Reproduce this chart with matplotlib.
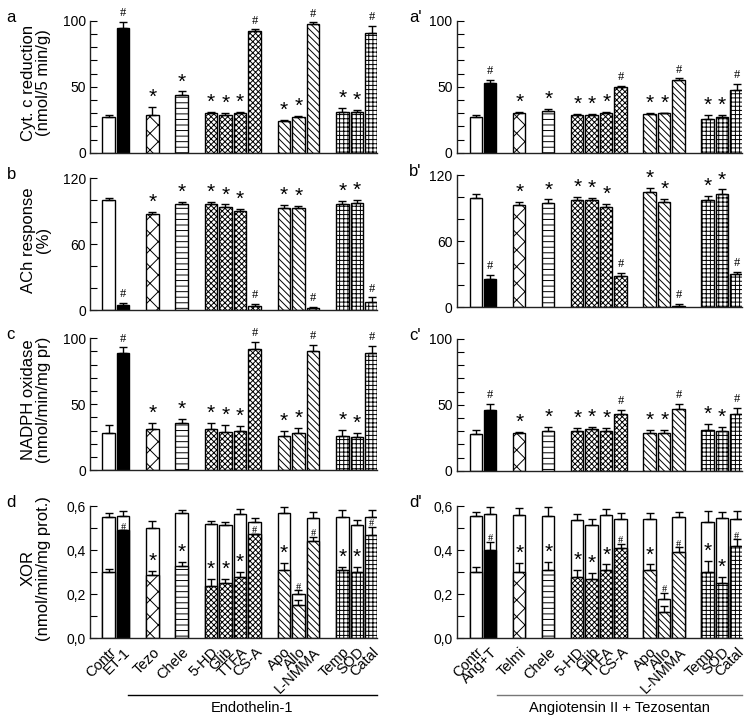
import numpy as np
import matplotlib
matplotlib.use('Agg')
import matplotlib.pyplot as plt
import matplotlib.transforms as mtransforms
from matplotlib.ticker import MultipleLocator, FuncFormatter

plt.rcParams['font.family'] = ['Liberation Sans', 'DejaVu Sans']
plt.rcParams['hatch.linewidth'] = 0.7

# bar slots (gaps between treatment groups)
pos = [0, 1, 3, 5, 7, 8, 9, 10, 12, 13, 14, 16, 17, 18]
labels_et = ['Contr', 'ET-1', 'Tezo', 'Chele', '5-HD', 'Glib', 'TTFA', 'CS-A',
             'Apo', 'Allo', 'L-NMMA', 'Temp', 'SOD', 'Catal']
labels_ang = ['Contr', 'Ang+T', 'Telmi', 'Chele', '5-HD', 'Glib', 'TTFA', 'CS-A',
              'Apo', 'Allo', 'L-NMMA', 'Temp', 'SOD', 'Catal']
hatches = ['', '', 'xx', '---', 'xxxxxx', 'xxxxxx', 'xxxxxx', 'xxxxxx',
           '\\' * 5, '\\' * 5, '\\' * 5, '++++', '++++', '++++']
fills = ['white', 'black'] + ['white'] * 12
marks_abc = ['', '#', '*', '*', '*', '*', '*', '#', '*', '*', '#', '*', '*', '#']
marks_d = ['', '#', '*', '*', '*', '*', '*', '#', '*', '#', '#', '*', '*', '#']

# Endothelin-1
cyt_et = [27, 95, 29, 44, 30, 29, 30, 92, 24, 27, 98, 31, 31, 91]
cyt_et_err = [2, 4, 6, 2.5, 1, 1, 1, 1.5, 1, 1, 0.8, 3, 1.5, 5]
ach_et = [100, 5, 87, 96, 96, 94, 90, 3.5, 93, 93, 1.5, 96, 97, 7]
ach_et_err = [2, 1.5, 2.5, 2.5, 2.5, 2, 2, 2, 2.5, 2, 1.5, 3, 3, 4.5]
nadph_et = [28, 89, 31, 36, 31, 29, 30, 92, 26, 28, 90, 26, 25, 89]
nadph_et_err = [6, 4, 4.5, 3, 5, 5.5, 3.5, 5, 4, 4, 5, 4.5, 3, 5]
xor_tot_et = [0.55, 0.555, 0.50, 0.57, 0.52, 0.515, 0.565, 0.53, 0.57, 0.20, 0.545, 0.55, 0.515, 0.55]
xor_tot_et_err = [0.02, 0.025, 0.033, 0.013, 0.013, 0.013, 0.022, 0.018, 0.025, 0.018, 0.03, 0.032, 0.022, 0.033]
xor_et = [0.30, 0.49, 0.285, 0.33, 0.235, 0.25, 0.278, 0.475, 0.31, 0.15, 0.44, 0.31, 0.30, 0.47]
xor_et_err = [0.012, 0, 0.02, 0.018, 0.035, 0.018, 0.022, 0, 0.03, 0.025, 0.02, 0.015, 0.025, 0.037]

# Angiotensin II + Tezosentan
cyt_ang = [27, 53, 30, 32, 29, 29, 30, 50, 29.5, 30, 55, 26, 27, 48]
cyt_ang_err = [2, 2.5, 1, 1, 0.8, 0.8, 1, 1, 0.5, 0.5, 1.5, 3, 1.5, 4]
ach_ang = [99, 26, 93, 95, 97, 97, 91, 28.5, 105, 96, 1, 97, 103, 30]
ach_ang_err = [4, 3, 2.5, 3, 3, 2.5, 3, 2.5, 3.5, 2.5, 2, 4, 4, 2]
nadph_ang = [28, 46, 28.5, 30, 30, 31.5, 30.5, 43, 28.5, 28.5, 47, 31, 30.5, 43]
nadph_ang_err = [3, 4.5, 0.8, 3.5, 2.5, 2, 2, 3, 2.5, 2.5, 4, 4.5, 3, 4.5]
xor_tot_ang = [0.555, 0.565, 0.56, 0.555, 0.535, 0.515, 0.56, 0.54, 0.54, 0.18, 0.55, 0.53, 0.545, 0.54]
xor_tot_ang_err = [0.02, 0.03, 0.03, 0.04, 0.027, 0.025, 0.027, 0.027, 0.027, 0.025, 0.025, 0.047, 0.03, 0.038]
xor_ang = [0.30, 0.40, 0.30, 0.31, 0.28, 0.27, 0.31, 0.41, 0.31, 0.12, 0.39, 0.30, 0.25, 0.42]
xor_ang_err = [0.023, 0.038, 0.04, 0.036, 0.03, 0.025, 0.025, 0.018, 0.025, 0.027, 0.022, 0.05, 0.03, 0.03]

W = 0.86


def put_mark(ax, x, y, m, small=False):
    if m == '*':
        ax.annotate('*', (x, y), xytext=(0, 0), textcoords='offset points', ha='center',
                    va='bottom', fontsize=15, clip_on=False)
    elif m == '#':
        ax.annotate('#', (x, y), xytext=(0, -1 if small else 2), textcoords='offset points',
                    ha='center', va='bottom', fontsize=7.5 if small else 9,
                    family='Liberation Serif', clip_on=False)


def draw_bars(ax, vals, errs, marks, fill=None):
    for i in range(len(pos)):
        ax.bar(pos[i], vals[i], width=W, color=fill or fills[i], edgecolor='black',
               hatch=hatches[i] if fill is None else '', linewidth=1, zorder=2)
    ax.errorbar(pos, vals, yerr=[np.zeros(len(vals)), errs], fmt='none', ecolor='black',
                elinewidth=1, capsize=3, capthick=1, zorder=3)
    if marks is not None:
        for i in range(len(pos)):
            put_mark(ax, pos[i], vals[i] + errs[i], marks[i])


def style(ax, top, major, minor, xlim):
    ax.set_ylim(0, top)
    ax.set_xlim(*xlim)
    for s in ['top', 'right']:
        ax.spines[s].set_visible(False)
    for s in ['left', 'bottom']:
        ax.spines[s].set_color('#222222')
        ax.spines[s].set_linewidth(1)
    ax.yaxis.set_major_locator(MultipleLocator(major))
    ax.yaxis.set_minor_locator(MultipleLocator(minor))
    ax.tick_params(axis='y', which='both', direction='in', length=5, width=0.8,
                   labelsize=10, pad=3)
    ax.tick_params(axis='x', length=0)
    ax.set_xticks([])


fig = plt.figure(figsize=(7.5, 7.21), dpi=100)

cols = [
    dict(x0=0.12, w=0.383, xlim=(-1.27, 18.39), bottoms=[0.788, 0.570, 0.348, 0.115],
         data=[(cyt_et, cyt_et_err), (ach_et, ach_et_err), (nadph_et, nadph_et_err)],
         xor=(xor_tot_et, xor_tot_et_err, xor_et, xor_et_err), labels=labels_et,
         letters=['a', 'b', 'c', 'd'], group='Endothelin-1', gx0=1.3, gcol='black',
         lx=0.009),
    dict(x0=0.609, w=0.38, xlim=(-1.31, 18.35), bottoms=[0.788, 0.574, 0.347, 0.115],
         data=[(cyt_ang, cyt_ang_err), (ach_ang, ach_ang_err), (nadph_ang, nadph_ang_err)],
         xor=(xor_tot_ang, xor_tot_ang_err, xor_ang, xor_ang_err), labels=labels_ang,
         letters=["a'", "b'", "c'", "d'"], group='Angiotensin II + Tezosentan', gx0=1.5,
         gcol='#777777', lx=0.545),
]
ylabels = ['Cyt. c reduction\n(nmol/5 min/g)', 'ACh response\n(%)',
           'NADPH oxidase\n(nmol/min/mg pr)', 'XOR\n(nmol/min/mg prot.)']
scales = [(100, 50, 10), (120, 60, 20), (100, 50, 10)]
H = 0.183

for ci, col in enumerate(cols):
    for r in range(4):
        ax = fig.add_axes([col['x0'], col['bottoms'][r], col['w'], H])
        if r < 3:
            top, major, minor = scales[r]
            vals, errs = col['data'][r]
            draw_bars(ax, vals, errs, marks_abc)
            style(ax, top, major, minor, col['xlim'])
        else:
            tot, tot_err, inner, inner_err = col['xor']
            draw_bars(ax, tot, tot_err, None, fill='white')
            draw_bars(ax, inner, inner_err, None)
            for i in range(len(pos)):
                y = inner[i] + inner_err[i]
                if tot[i] - y < 0.04:
                    y = tot[i] + tot_err[i]
                put_mark(ax, pos[i], y, marks_d[i], small=True)
            style(ax, 0.6, 0.2, 0.1, col['xlim'])
            ax.yaxis.set_major_formatter(FuncFormatter(lambda v, p: ('%.1f' % v).replace('.', ',')))
            ax.set_xticks(pos)
            ax.set_xticklabels(col['labels'], rotation=45, ha='right', va='top',
                               rotation_mode='anchor', fontsize=10.5)
            ax.tick_params(axis='x', length=0, pad=5)
            trans = mtransforms.blended_transform_factory(ax.transData, ax.transAxes)
            ax.plot([col['gx0'], col['xlim'][1]], [-0.43, -0.43], transform=trans,
                    color=col['gcol'], lw=1, clip_on=False)
            ax.text((col['gx0'] + col['xlim'][1]) / 2, -0.53, col['group'], transform=trans,
                    ha='center', va='center', fontsize=10.5)
        if ci == 0:
            ax.set_ylabel(ylabels[r], fontsize=12, linespacing=1.05)
            ax.yaxis.set_label_coords(-0.135, 0.53)
        fig.text(col['lx'], col['bottoms'][r] + H + 0.005, col['letters'][r], fontsize=12,
                 ha='left', va='center')

fig.savefig('out.png', dpi=100)
